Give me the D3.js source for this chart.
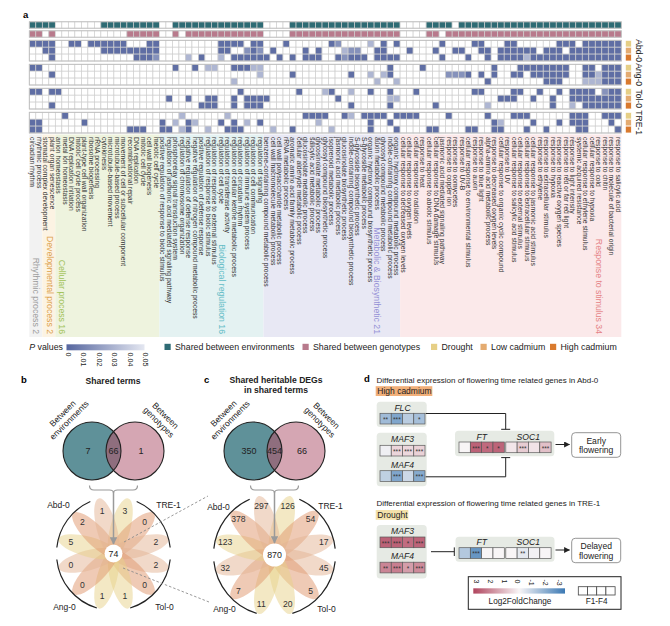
<!DOCTYPE html>
<html><head><meta charset="utf-8">
<script src="https://cdn.jsdelivr.net/npm/d3@7/dist/d3.min.js"></script>
<style>
html,body{margin:0;padding:0;background:#fff}
svg{display:block;font-family:"Liberation Sans",Arial,Helvetica,sans-serif}
</style></head>
<body>
<svg id="fig" width="670" height="626"></svg>
<script>
// ================= DATA =================
const categoryNames = ["Rhythmic process 2","Developmental process 2","Cellular process 16","Biological regulation 16","Metabolic & Biosynthetic 21","Response to stimulus 34"];
const categorySizes = [2,2,16,16,21,34];
const terms = [
 "circadian rhythm","rhythmic process",
 "stomatal complex development","plant organ senescence",
 "anion homeostasis","metal ion homeostasis","DNA replication initiation","mitotic cell cycle process","plant-type cell wall organization","ribosome biogenesis","rRNA processing","cytokinesis","microtubule-based movement","microtubule-based process","movement of cell or subcellular component","recombinational repair","DNA replication","mitotic cell cycle","cell wall biogenesis","meiotic cell cycle",
 "positive regulation of response to biotic stimulus","regulation of jasmonic acid mediated signaling pathway","phosphorelay signal transduction system","regulation of chromosome organization","negative regulation of defense response","negative regulation of nitrogen compound metabolic process","positive regulation of defense response","regulation of response to biotic stimulus","regulation of response to external stimulus","regulation of cell cycle","regulation of transferase activity","regulation of cellular ketone metabolic process","regulation of circadian rhythm","regulation of immune system process","regulation of cell communication","regulation of signaling",
 "benzene-containing compound metabolic process","cell wall macromolecule metabolic process","cell wall polysaccharide metabolic process","rRNA metabolic process","aromatic amino acid family metabolic process","cellular aldehyde metabolic process","glucosinolate metabolic process","salicylic acid metabolic process","glycosinolate metabolic process","glycosyl compound biosynthetic process","isoprenoid metabolic process","jasmonic acid metabolic process","glucosinolate biosynthetic process","indole-containing compound biosynthetic process","S-glycoside biosynthetic process","S-glycoside metabolic process","organic hydroxy compound biosynthetic process","auxin metabolic process","glycosyl compound metabolic process","indole-containing compound metabolic process","organic hydroxy compound metabolic process",
 "cellular response to decreased oxygen levels","cellular response to oxygen levels","cellular response to radiation","response to heat","cellular response to abiotic stimulus","cellular response to DNA damage stimulus","jasmonic acid mediated signaling pathway","response to copper ion","response to oomycetes","response to UV-B","cellular response to environmental stimulus","response to auxin","response to blue light","alpha-amino acid metabolic process","response to decreased oxygen levels","cellular response to organic cyclic compound","response to UV","cellular response to salicylic acid stimulus","cellular response to external stimulus","cellular response to extracellular stimulus","cellular response to jasmonic acid stimulus","response to ethylene","response to extracellular stimulus","response to hypoxia","response to reactive oxygen species","response to red or far red light","response to light intensity","systemic acquired resistance","cellular response to ethylene stimulus","cellular response to hypoxia","response to cold","response to chitin","response to molecule of bacterial origin","response to salicylic acid"
];
const genotypes = ["Abd-0","Ang-0","Tol-0","TRE-1"];
const environments = ["Drought","Low cadmium","High cadmium"];

// 1 = term shared
const sharedBetweenEnvironments = ["1111","0000000","111111111","00","11111111111111","0000","11111111111111111","0000","1111","0","1111111111111111111111111"].join("");
const sharedBetweenGenotypes    = ["11","0","1","00000000000","11111","00","1","0","111111111111","0000","11111111111111111","0000","11","0","111111111111111111111111111"].join("");

// P value level per cell: 0 = not enriched, 1/2/3 = increasing P value
const pLevelValues = [null, 0.003, 0.017, 0.031];
const heatAbd0 = [
 ["11110011011111100011","00000000011110110001","00000012000030101000","00010000110001100000","01110111111"].join(""),
 ["00110000000111111111","00000000011002120100","00101000322001100010","00100110011011111101","11011111111"].join(""),
 ["00010000000000001112","00003010030111111010","10111001211101111000","00010001001011113111","11111111111"].join("")];
const heatAng0 = [
 ["11000000000000000000","00100103300111330000","00000000000000010000","10000000000100011111","11100110111"].join(""),
 ["00010000000000000000","00000000000000030000","10000000010030310000","00002221010100110111","11100113111"].join(""),
 ["00000000000000000000","00000000000300000000","00000000000003003000","00000000001000000001","11000333111"].join("")];
const heatTol0 = [
 ["11011000000000000000","00000000000010000000","01000310030010010001","00000000110000110010","01011110211"].join(""),
 ["00000000000000000000","01001001100101111000","00000001000000033000","00000000000011100100","10011111111"].join(""),
 ["00010000000000000000","00000011100101110000","00000000010000010000","00100000003000000000","10030111111"].join("")];
const heatTRE1 = [
 ["00000100000000000000","00030000003000000000","00111100130111101111","00001000001000111000","00011100111"].join(""),
 ["11000000100000000000","10301300010103010000","00003000000010010000","00000000000130000100","01011100010"].join(""),
 ["11000000000000011100","11031003001110000300","10000030000010001000","01100001100110001001","00001100001"].join("")];
const heatRows = [heatAbd0, heatAng0, heatTol0, heatTRE1];
const pTicks = [0,0.01,0.02,0.03,0.04,0.05];

// panel b / c
const vennTerms = [7, 66, 1];
const vennDEGs = [350, 454, 66];
const flowerTermCounts = [3,0,2,2,0,1,1,0,0,5,2,1];        // petals clockwise from top-right
const flowerDEGCounts  = [126,54,17,45,5,20,11,7,32,123,378,297];
const flowerTermCenter = 74, flowerDEGCenter = 870;
const petalEnvironment = [0,2,1,1,2,0,0,2,1,0,2,1];
const quadrantGenotypes = ["TRE-1","Tol-0","Ang-0","Abd-0"];

// panel d (log2 fold change F1..F4, significance)
const abdFLC  = [-1.4,-1.9,-1.0,-1.3], abdFLCsig  = ["**","***","","*"];
const abdMAF3 = [-0.15,0.55,0.5,0.6],  abdMAF3sig = ["","***","***","***"];
const abdMAF4 = [-0.9,-1.9,-0.7,-1.8], abdMAF4sig = ["","***","","***"];
const abdFT   = [0,2.5,2.35,2.45],     abdFTsig   = ["","***","*","*"];
const abdSOC1 = [0.25,0.7,0.3,0.9],    abdSOC1sig = ["","***","","***"];
const treMAF3 = [2.5,2.5,2.3,2.45],    treMAF3sig = ["***","***","*","***"];
const treMAF4 = [1.9,2.0,1.5,1.8],     treMAF4sig = ["**","***","*","***"];
const treFT   = [-1.1,-2.3,0,0],       treFTsig   = ["","***","",""];
const treSOC1 = [0,-0.3,-0.1,0],       treSOC1sig = ["","**","",""];
const lfcTicks = [3,2,1,0,-1,-2,-3];

// ================= STYLE =================
const colTeal = "#2e6b74", colPink = "#b87a8c";
const envColors = ["#e6cf86","#e4ab70","#d97a2e"];
const petalColors = ["#e8d28a","#e4b494","#df956c"];
const catFill = ["#f2f2f2","#fcf3e3","#eef3de","#e4f2f2","#e8e8f4","#fbe9ea"];
const catText = ["#9d9d9d","#dca24c","#a2c25a","#62bcc6","#9591d6","#e58487"];
const catLabelCol = [1.1, 3.2, 5.0, 29.6, 53.5, 87.6];

const svg = d3.select("#fig");
const defs = svg.append("defs");

// ================= PANEL A =================
const hm = {left:29.3, right:621.3, topEnv:21.8, topGen:30.8, barH:6.4, groupTops:[40.3,64.3,88.3,112.3], rowH:6.9};
const x = d3.scaleBand().domain(d3.range(terms.length)).range([hm.left, hm.right]);
const cw = x.bandwidth();
const pColor = d3.scaleLinear().domain([0,0.05]).range(["#56669f","#e4e7f1"]);
const gA = svg.append("g");

svg.append("text").attr("x",23).attr("y",18).attr("font-size",9.5).attr("font-weight","bold").text("a");

// category backgrounds
const catStart = d3.cumsum([0].concat(categorySizes.slice(0,-1)));
categoryNames.forEach((c,i)=>{
  gA.append("rect").attr("x",x(catStart[i])).attr("y",134.5)
    .attr("width",categorySizes[i]*cw).attr("height",202.5).attr("fill",catFill[i]);
});

function strip(str, y, h, fillFn){
  const g = gA.append("g");
  g.selectAll(null).data(str.split("")).join("rect")
   .attr("x",(d,i)=>x(i)).attr("y",y).attr("width",cw).attr("height",h)
   .attr("fill",fillFn).attr("stroke","#cfcfcf").attr("stroke-width",0.7);
}
strip(sharedBetweenEnvironments, hm.topEnv, hm.barH, d=>d==="1"?colTeal:"#fff");
gA.append("rect").attr("x",hm.left).attr("y",hm.topEnv).attr("width",hm.right-hm.left).attr("height",hm.barH).attr("fill","none").attr("stroke","#bdbdbd").attr("stroke-width",0.8);
strip(sharedBetweenGenotypes, hm.topGen, hm.barH, d=>d==="1"?colPink:"#fff");
gA.append("rect").attr("x",hm.left).attr("y",hm.topGen).attr("width",hm.right-hm.left).attr("height",hm.barH).attr("fill","none").attr("stroke","#bdbdbd").attr("stroke-width",0.8);

heatRows.forEach((rows,gi)=>{
  const gy = hm.groupTops[gi];
  rows.forEach((row,ri)=>{
    strip(row, gy+ri*hm.rowH, hm.rowH, d=>d==="0"?"#fff":pColor(pLevelValues[+d]));
    gA.append("rect").attr("x",625.3).attr("y",gy+ri*hm.rowH).attr("width",6.3).attr("height",hm.rowH)
      .attr("fill",envColors[ri]).attr("stroke","#fff").attr("stroke-width",0.8);
  });
  gA.append("rect").attr("x",hm.left).attr("y",gy).attr("width",hm.right-hm.left).attr("height",3*hm.rowH)
    .attr("fill","none").attr("stroke","#bdbdbd").attr("stroke-width",0.9);
  gA.append("text").attr("transform",`translate(639,${gy+1.5*hm.rowH}) rotate(90)`)
    .attr("text-anchor","middle").attr("dy","0.35em").attr("font-size",8.5).attr("fill","#222").text(genotypes[gi]);
});

// term labels
gA.append("g").selectAll("text").data(terms).join("text")
  .attr("transform",(d,i)=>`translate(${x(i)+cw/2},137) rotate(90)`)
  .attr("dy","0.35em").attr("font-size",6.8).attr("fill","#333").text(d=>d);

// category labels
categoryNames.forEach((c,i)=>{
  gA.append("text").attr("transform",`translate(${hm.left+catLabelCol[i]*cw},334) rotate(90)`)
    .attr("text-anchor","end").attr("dy","0.35em").attr("font-size",8.7).attr("fill",catText[i]).text(c);
});

// legend
const pg = defs.append("linearGradient").attr("id","pgrad");
pg.append("stop").attr("offset","0%").attr("stop-color",pColor(0));
pg.append("stop").attr("offset","100%").attr("stop-color",pColor(0.05));
const lg = svg.append("g").attr("font-size",8.8).attr("fill","#222");
const pt = lg.append("text").attr("x",63).attr("y",350).attr("text-anchor","end");
pt.append("tspan").attr("font-style","italic").text("P");
pt.append("tspan").text(" values");
lg.append("rect").attr("x",66.5).attr("y",344.3).attr("width",78).attr("height",6).attr("fill","url(#pgrad)");
const pLeg = d3.scaleLinear().domain([0,0.05]).range([68.5,145.5]);
lg.selectAll(null).data(pTicks).join("text")
  .attr("transform",d=>`translate(${pLeg(d)},352.5) rotate(90)`).attr("dy","0.35em").attr("font-size",7.2).text(d=>d===0?"0":d3.format(".2f")(d));
const legItems = [["Shared between environments",colTeal,164.5],["Shared between genotypes",colPink,302.5],[environments[0],envColors[0],431],[environments[1],envColors[1],480.5],[environments[2],envColors[2],550]];
legItems.forEach(([t,c,lx])=>{
  lg.append("rect").attr("x",lx).attr("y",343.8).attr("width",6.2).attr("height",6.2).attr("fill",c);
  lg.append("text").attr("x",lx+10.5).attr("y",350.3).text(t);
});

// ================= PANELS B & C =================
const ahGray = defs.append("marker").attr("id","ahGray").attr("viewBox","0 0 10 10").attr("refX",9).attr("refY",5)
  .attr("markerWidth",5).attr("markerHeight",5).attr("orient","auto");
ahGray.append("path").attr("d","M0,0L10,5L0,10Z").attr("fill","#9a9a9a");
const ahBlack = defs.append("marker").attr("id","ahBlack").attr("viewBox","0 0 10 10").attr("refX",9).attr("refY",5)
  .attr("markerWidth",6).attr("markerHeight",6).attr("orient","auto");
ahBlack.append("path").attr("d","M0,0L10,5L0,10Z").attr("fill","#222");

svg.append("text").attr("x",21).attr("y",383).attr("font-size",9.5).attr("font-weight","bold").text("b");
svg.append("text").attr("x",204).attr("y",383).attr("font-size",9.5).attr("font-weight","bold").text("c");
svg.append("text").attr("x",364).attr("y",382).attr("font-size",9.5).attr("font-weight","bold").text("d");
svg.append("text").attr("x",113).attr("y",384).attr("text-anchor","middle").attr("font-size",8.6).attr("font-weight","bold").attr("fill","#222").text("Shared terms");
svg.append("text").attr("x",276).attr("y",383).attr("text-anchor","middle").attr("font-size",8.6).attr("font-weight","bold").attr("fill","#222").text("Shared heritable DEGs");
svg.append("text").attr("x",276).attr("y",393).attr("text-anchor","middle").attr("font-size",8.6).attr("font-weight","bold").attr("fill","#222").text("in shared terms");

function drawVenn(cxL, cxR, cy, r, vals, id){
  const g = svg.append("g");
  defs.append("clipPath").attr("id",id).append("circle").attr("cx",cxL).attr("cy",cy).attr("r",r);
  g.append("circle").attr("cx",cxL).attr("cy",cy).attr("r",r).attr("fill","#5f9199");
  g.append("circle").attr("cx",cxR).attr("cy",cy).attr("r",r).attr("fill","#d5a6b3");
  g.append("circle").attr("cx",cxR).attr("cy",cy).attr("r",r).attr("fill","#8f6e7e").attr("clip-path",`url(#${id})`);
  [cxL,cxR].forEach(c=>g.append("circle").attr("cx",c).attr("cy",cy).attr("r",r).attr("fill","none").attr("stroke","#222").attr("stroke-width",1.1));
  const tx = [cxL-4, (cxL+cxR)/2, cxR+6];
  vals.forEach((v,i)=>g.append("text").attr("x",tx[i]).attr("y",cy).attr("dy","0.35em").attr("text-anchor","middle").attr("font-size",9).attr("fill","#222").text(v));
  const lab = (lx,ly,rot,l1,l2)=>{
    const t = g.append("g").attr("transform",`translate(${lx},${ly}) rotate(${rot})`);
    t.append("text").attr("y",-2).attr("text-anchor","middle").attr("font-size",8.5).attr("fill","#222").text(l1);
    t.append("text").attr("y",7.5).attr("text-anchor","middle").attr("font-size",8.5).attr("fill","#222").text(l2);
  };
  lab(cxL-26, cy-34, -45, "Between", "environments");
  lab(cxR+27, cy-32, 45, "Between", "genotypes");
  // bracket and arrow
  const mx = (cxL+cxR)/2;
  g.append("path").attr("d",`M${mx-24},485.5 Q${mx-24},490 ${mx-19.5},490 L${mx-4},490 Q${mx},490 ${mx},493 Q${mx},490 ${mx+4},490 L${mx+19.5},490 Q${mx+24},490 ${mx+24},485.5`)
    .attr("fill","none").attr("stroke","#9a9a9a").attr("stroke-width",1.2);
  return mx;
}

function drawFlower(cx, cy, counts, centerVal, o){
  const g = svg.append("g");
  const angles = counts.map((d,i)=>15+30*i);
  g.selectAll("ellipse").data(angles).join("ellipse")
    .attr("transform",a=>`translate(${cx},${cy}) rotate(${a}) translate(0,${-o.off})`)
    .attr("rx",o.rx).attr("ry",o.ry)
    .attr("fill",(a,i)=>petalColors[petalEnvironment[i]]).attr("fill-opacity",0.5);
  g.selectAll("text.n").data(counts).join("text").attr("class","n")
    .attr("x",(d,i)=>cx+o.labelR*Math.sin(angles[i]*Math.PI/180))
    .attr("y",(d,i)=>cy-o.labelR*Math.cos(angles[i]*Math.PI/180))
    .attr("dy","0.35em").attr("text-anchor","middle").attr("font-size",8.6).attr("fill","#333").text(d=>d);
  g.append("circle").attr("cx",cx).attr("cy",cy).attr("r",o.cr).attr("fill","#fff");
  g.append("text").attr("x",cx).attr("y",cy).attr("dy","0.35em").attr("text-anchor","middle").attr("font-size",8.8).attr("fill","#222").text(centerVal);
  const arc = d3.arc().innerRadius(o.R).outerRadius(o.R);
  const spans = [[24,84],[96,163],[197,264],[276,336]];
  spans.forEach(([s,e])=>g.append("path").attr("transform",`translate(${cx},${cy})`)
    .attr("d",arc({startAngle:s*Math.PI/180,endAngle:e*Math.PI/180})).attr("fill","none").attr("stroke","#222").attr("stroke-width",1.2));
  const qpos = [[o.qx,-48.5],[o.qx-4,54],[-o.qx+6,54],[-o.qx,-48]];
  quadrantGenotypes.forEach((q,i)=>g.append("text").attr("x",cx+qpos[i][0]).attr("y",cy+qpos[i][1]).attr("dy","0.35em")
    .attr("text-anchor","middle").attr("font-size",8.5).attr("fill","#222").text(q));
}

const mxB = drawVenn(92, 135, 451, 29, vennTerms, "clipB");
const mxC = drawVenn(253, 296, 451, 29, vennDEGs, "clipC");
drawFlower(mxB, 553.5, flowerTermCounts, flowerTermCenter, {off:26, rx:10, ry:31, labelR:44, cr:9, R:57, qx:55});
drawFlower(mxC, 555, flowerDEGCounts, flowerDEGCenter, {off:28, rx:10.5, ry:33, labelR:51, cr:11.5, R:61, qx:56});
[[mxB,544],[mxC,543]].forEach(([mx,ye])=>svg.append("line").attr("x1",mx).attr("y1",491).attr("x2",mx).attr("y2",ye)
  .attr("stroke","#9a9a9a").attr("stroke-width",1.5).attr("marker-end","url(#ahGray)"));
// zoom lines
[[124,542,208,496],[123,568,209,602]].forEach(([a,b,c,d])=>svg.append("line").attr("x1",a).attr("y1",b).attr("x2",c).attr("y2",d)
  .attr("stroke","#8c8c8c").attr("stroke-width",0.9).attr("stroke-dasharray","2.5,2"));

// ================= PANEL D =================
const lfc = d3.scaleLinear().domain([3,0,-3]).range(["#b0445d","#f8f5f6","#3b79b4"]);
const gD = svg.append("g").attr("fill","#222");
function box(x0,y0,w,h){ gD.append("rect").attr("x",x0).attr("y",y0).attr("width",w).attr("height",h).attr("rx",3.5).attr("fill","#e6eae4"); }
function geneName(t,xc,y){ gD.append("text").attr("x",xc).attr("y",y).attr("text-anchor","middle").attr("font-size",8.6).attr("font-style","italic").attr("fill","#222").text(t); }
function cells(vals,sig,x0,w,y0,h){
  const sx = d3.scaleBand().domain(d3.range(vals.length)).range([x0,x0+w]);
  const g = gD.append("g");
  g.selectAll("rect").data(vals).join("rect").attr("x",(d,i)=>sx(i)).attr("y",y0).attr("width",sx.bandwidth()).attr("height",h)
    .attr("fill",d=>lfc(d)).attr("stroke","#5a5a5a").attr("stroke-width",0.7);
  g.selectAll("text").data(sig).join("text").attr("x",(d,i)=>sx(i)+sx.bandwidth()/2).attr("y",y0+h/2+3.2)
    .attr("text-anchor","middle").attr("font-size",6.5).attr("fill","#333").text(d=>d);
}
function textBox(x0,y0,w,h,l1,l2){
  gD.append("rect").attr("x",x0).attr("y",y0).attr("width",w).attr("height",h).attr("rx",3.5).attr("fill","#fff").attr("stroke","#8a8a8a").attr("stroke-width",0.9);
  gD.append("text").attr("x",x0+w/2).attr("y",y0+h/2-1.5).attr("text-anchor","middle").attr("font-size",8.6).text(l1);
  gD.append("text").attr("x",x0+w/2).attr("y",y0+h/2+8).attr("text-anchor","middle").attr("font-size",8.6).text(l2);
}
// Abd-0 section
gD.append("text").attr("x",376.5).attr("y",383).attr("font-size",8).text("Differential expression of flowering time related genes in Abd-0");
gD.append("rect").attr("x",375.7).attr("y",386.2).attr("width",56.6).attr("height",9.8).attr("fill","#f1b07a");
gD.append("text").attr("x",377.3).attr("y",394.2).attr("font-size",8.5).text(environments[2]);
box(376.7,401.7,50,25.3); geneName("FLC",402.5,410.5); cells(abdFLC,abdFLCsig,380,45,413.3,10.7);
box(376.7,432.7,50,53.5); geneName("MAF3",402.5,442.3); cells(abdMAF3,abdMAF3sig,380,45,445.3,10.7);
geneName("MAF4",402.5,467.5); cells(abdMAF4,abdMAF4sig,380,45,470.7,10.7);
box(455,430.7,99.3,25.5); geneName("FT",481.7,439.6); geneName("SOC1",528.3,439.6);
cells(abdFT,abdFTsig,459,45.3,442,10.7); cells(abdSOC1,abdSOC1sig,505.8,45.3,442,10.7);
textBox(571.7,432.7,49,24.6,"Early","flowering");
gD.append("line").attr("x1",555.5).attr("y1",444.5).attr("x2",569.5).attr("y2",444.5).attr("stroke","#222").attr("stroke-width",1).attr("marker-end","url(#ahBlack)");
gD.append("path").attr("d","M425.7,413.5 H505.7 V429.3 M501.2,429.3 H510.2").attr("fill","none").attr("stroke","#222").attr("stroke-width",1);
gD.append("path").attr("d","M425.7,476.8 H505.7 V457.6 M501.2,457.6 H510.2").attr("fill","none").attr("stroke","#222").attr("stroke-width",1);

// TRE-1 section
gD.append("text").attr("x",376.5).attr("y",506).attr("font-size",8).text("Differential expression of flowering time related genes in TRE-1");
gD.append("rect").attr("x",375.7).attr("y",510).attr("width",32.6).attr("height",9.8).attr("fill","#f3e1aa");
gD.append("text").attr("x",377.3).attr("y",518).attr("font-size",8.5).text(environments[0]);
box(376.7,525,50,53.5); geneName("MAF3",402.5,534.4); cells(treMAF3,treMAF3sig,380,45,537,10.7);
geneName("MAF4",402.5,559); cells(treMAF4,treMAF4sig,380,45,562.2,10.7);
gD.append("path").attr("d","M431,551.7 H454.3 M454.3,547.4 V556").attr("fill","none").attr("stroke","#222").attr("stroke-width",1);
box(455.5,536.7,99,25); geneName("FT",481.7,545.3); geneName("SOC1",528.3,545.3);
cells(treFT,treFTsig,459,45.3,547.7,10.7); cells(treSOC1,treSOC1sig,505.8,45.3,547.7,10.7);
textBox(571.7,538.3,49,24.4,"Delayed","flowering");
gD.append("line").attr("x1",555.5).attr("y1",550).attr("x2",569.5).attr("y2",550).attr("stroke","#222").attr("stroke-width",1).attr("marker-end","url(#ahBlack)");

// legend
gD.append("rect").attr("x",468.3).attr("y",576.7).attr("width",152.7).attr("height",32.6).attr("fill","#fff").attr("stroke","#222").attr("stroke-width",1);
const lgrad = defs.append("linearGradient").attr("id","lfcgrad");
[[0,3],[50,0],[100,-3]].forEach(([o,v])=>lgrad.append("stop").attr("offset",o+"%").attr("stop-color",lfc(v)));
gD.append("rect").attr("x",473.3).attr("y",588.3).attr("width",91.7).attr("height",5.3).attr("fill","url(#lfcgrad)");
const lfcX = d3.scaleLinear().domain([3,-3]).range([476.7,559]);
gD.selectAll("text.lt").data(lfcTicks).join("text").attr("class","lt")
  .attr("transform",d=>`translate(${lfcX(d)},579.5) rotate(90)`).attr("dy","0.35em").attr("font-size",7).text(d=>d);
gD.append("text").attr("x",520).attr("y",603.6).attr("text-anchor","middle").attr("font-size",8.2).text("Log2FoldChange");
gD.selectAll("rect.f").data(d3.range(4)).join("rect").attr("class","f")
  .attr("x",d=>578.3+d*9.2).attr("y",586.7).attr("width",9.2).attr("height",8.3).attr("fill","#fff").attr("stroke","#444").attr("stroke-width",0.8);
gD.append("text").attr("x",596.7).attr("y",604.3).attr("text-anchor","middle").attr("font-size",8.2).text("F1-F4");
</script>
</body></html>
